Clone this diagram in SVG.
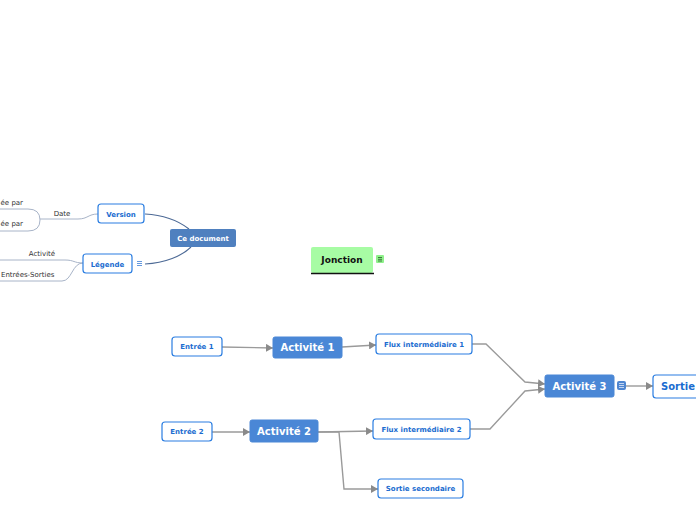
<svg xmlns="http://www.w3.org/2000/svg" width="696" height="520" viewBox="0 0 696 520">
<defs>
<marker id="arr" markerUnits="userSpaceOnUse" markerWidth="7" markerHeight="8" refX="7" refY="4" orient="auto">
<path d="M0,0 L7,4 L0,8 z" fill="#8a8a8a"/>
</marker>
<style>
.box{fill:#fff;stroke:#2a7de1;stroke-width:1.2}
.act{fill:#4a87d6;stroke:#4a87d6}
.t{font-family:"DejaVu Sans",Verdana,sans-serif;font-weight:bold;text-anchor:middle}
.bt{fill:#1a6cd0;font-size:7px}
.wt{fill:#fff;font-size:10px}
.lt{font-family:"DejaVu Sans",Verdana,sans-serif;font-size:7px;fill:#333}
.c{fill:none;stroke:#9a9a9a;stroke-width:1.4}
.m{fill:none;stroke:#4d6a96;stroke-width:1.1}
.s{fill:none;stroke:#a8b4c8;stroke-width:1}
</style>
</defs>
<rect width="696" height="520" fill="#fff"/>
<g id="connectors">
<path class="m" d="M145,214 C165,215 180,222 189,229"/>
<path class="m" d="M145,264 C165,263 182,256 191,247"/>
<path class="s" d="M98,214 C88,214 88,219 78,219 H40"/>
<path class="s" d="M0,209 H28 Q40,209 40,220 Q40,231 28,231 H0"/>
<path class="s" d="M83,263 C74,263 74,260 65,260 H0"/>
<path class="s" d="M83,263 C72,263 72,281 62,281 H0"/>
<path class="c" d="M222,347 L273,348" marker-end="url(#arr)"/>
<path class="c" d="M342,347 L376,345" marker-end="url(#arr)"/>
<path class="c" d="M472,344 H486 L525,382 L545,384" marker-end="url(#arr)"/>
<path class="c" d="M470,429 H490 L525,391 L545,389" marker-end="url(#arr)"/>
<path class="c" d="M626,386 H653" marker-end="url(#arr)"/>
<path class="c" d="M212,432 L250,432" marker-end="url(#arr)"/>
<path class="c" d="M318,432 L373,431" marker-end="url(#arr)"/>
<path class="c" d="M318,432 H339 L344,489 H378" marker-end="url(#arr)"/>
</g>
<g id="left-labels">
<text class="lt" x="23" y="205" text-anchor="end">ée par</text>
<text class="lt" x="23" y="226" text-anchor="end">ée par</text>
<text class="lt" x="62" y="216" text-anchor="middle">Date</text>
<text class="lt" x="42" y="256" text-anchor="middle">Activité</text>
<text class="lt" x="1" y="277">Entrées-Sorties</text>
</g>
<g id="ce-document">
<rect x="170" y="229" width="66" height="18" rx="2" fill="#4f80bf"/>
<text class="t" x="203" y="240.5" fill="#fff" font-size="7">Ce document</text>
</g>
<g id="version">
<rect class="box" x="98" y="204" width="46" height="19" rx="3"/>
<text class="t bt" x="121" y="216.5">Version</text>
</g>
<g id="legende">
<rect class="box" x="83" y="254" width="49" height="19" rx="3"/>
<text class="t bt" x="107.5" y="266.5">Légende</text>
<g stroke="#3d7fd6" stroke-width="0.8"><line x1="137" y1="261.5" x2="142" y2="261.5"/><line x1="137" y1="263.5" x2="142" y2="263.5"/><line x1="137" y1="265.5" x2="142" y2="265.5"/></g>
</g>
<g id="jonction">
<rect x="311" y="247" width="62" height="26" rx="2" fill="#a7fca4"/>
<line x1="311" y1="273.5" x2="374" y2="273.5" stroke="#111" stroke-width="1.4"/>
<text class="t" x="342" y="263" fill="#111" font-size="9">Jonction</text>
<rect x="376" y="255" width="8" height="8" rx="1" fill="#8ef08a"/>
<g stroke="#2a5a2a" stroke-width="0.8"><line x1="378" y1="257.5" x2="382" y2="257.5"/><line x1="378" y1="259.3" x2="382" y2="259.3"/><line x1="378" y1="261" x2="382" y2="261"/></g>
</g>
<g id="entree1">
<rect class="box" x="172" y="337" width="50" height="19" rx="3"/>
<text class="t bt" x="197" y="349">Entrée 1</text>
</g>
<g id="activite1">
<rect class="act" x="273" y="337" width="69" height="21" rx="2"/>
<text class="t wt" x="307.5" y="351">Activité 1</text>
</g>
<g id="flux1">
<rect class="box" x="376" y="334" width="96" height="20" rx="3"/>
<text class="t bt" x="424" y="346.5">Flux intermédiaire 1</text>
</g>
<g id="activite3">
<rect class="act" x="545" y="375" width="69" height="22" rx="2"/>
<text class="t wt" x="579.5" y="389.5">Activité 3</text>
<rect x="617" y="381" width="9" height="9" rx="2" fill="#4f86d0"/>
<g stroke="#dfe9f8" stroke-width="0.8"><line x1="619" y1="383.5" x2="624" y2="383.5"/><line x1="619" y1="385.5" x2="624" y2="385.5"/><line x1="619" y1="387.5" x2="624" y2="387.5"/></g>
</g>
<g id="sortie">
<rect class="box" x="653" y="375" width="60" height="23" rx="3"/>
<text class="t" x="661" y="390" fill="#1a6cd0" font-size="10" style="text-anchor:start">Sortie</text>
</g>
<g id="entree2">
<rect class="box" x="162" y="422" width="50" height="19" rx="3"/>
<text class="t bt" x="187" y="434">Entrée 2</text>
</g>
<g id="activite2">
<rect class="act" x="250" y="420" width="68" height="22" rx="2"/>
<text class="t wt" x="284" y="434.5">Activité 2</text>
</g>
<g id="flux2">
<rect class="box" x="373" y="419" width="97" height="20" rx="3"/>
<text class="t bt" x="421.5" y="431.5">Flux intermédiaire 2</text>
</g>
<g id="sortie-secondaire">
<rect class="box" x="378" y="479" width="85" height="19" rx="3"/>
<text class="t bt" x="420.5" y="491">Sortie secondaire</text>
</g>
</svg>
